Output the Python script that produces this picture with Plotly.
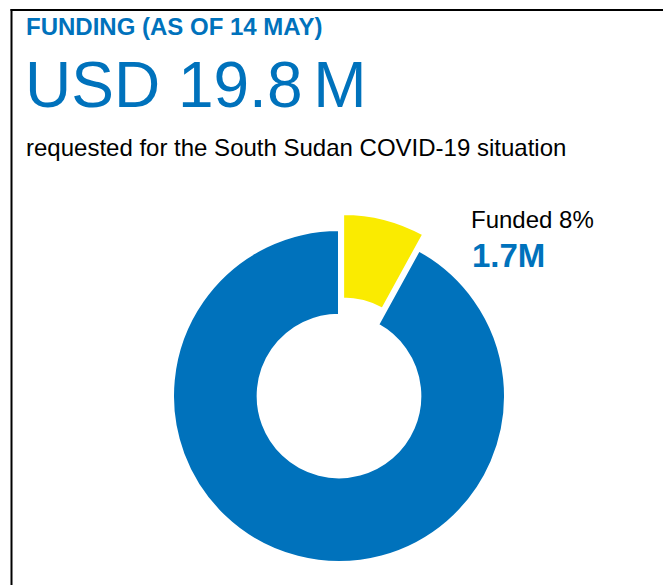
import plotly.graph_objects as go

W, H = 679, 593
OX, OY = 8, 8  # page body margin offset

labels = ["Funded", "Unfunded"]
pct_values = [8, 92]
colors = ["#FAEB00", "#0072BC"]
pulls = [0.1, 0]

title_text = "FUNDING (AS OF 14 MAY)"
amount_text = "USD 19.8\u2006M"
subtitle_text = "requested for the South Sudan COVID-19 situation"
funded_label = "Funded 8%"
funded_amount = "1.7M"

BLUE = "#0072BC"
FONT = "Liberation Sans, Arial, sans-serif"

def px(x):
    return (x - OX) / W

def py(y):
    return 1 - (y - OY) / H

# pie geometry (pixels on screen)
cx, cy, r = 339, 396, 166
half = r * 1.1

fig = go.Figure(go.Pie(
    labels=labels,
    values=pct_values,
    marker=dict(colors=colors, line=dict(color="white", width=2)),
    pull=pulls,
    hole=0.49,
    sort=False,
    direction="clockwise",
    rotation=0,
    textinfo="none",
    hoverinfo="label+percent",
    showlegend=False,
    domain=dict(x=[px(cx - half), px(cx + half)], y=[py(cy + half), py(cy - half)]),
))

annos = [
    dict(text="<b>" + title_text + "</b>", x=px(23.5), y=py(26.5), size=24, color=BLUE),
    dict(text=amount_text, x=px(23), y=py(85), size=64, color=BLUE),
    dict(text=subtitle_text, x=px(24), y=py(147), size=24, color="black"),
    dict(text=funded_label, x=px(469), y=py(220), size=24, color="black"),
    dict(text="<b>" + funded_amount + "</b>", x=px(470), y=py(255.5), size=33, color=BLUE),
]
fig.update_layout(
    annotations=[dict(text=a["text"], x=a["x"], y=a["y"], xref="paper", yref="paper",
                      xanchor="left", yanchor="middle", showarrow=False,
                      font=dict(family=FONT, size=a["size"], color=a["color"]))
                 for a in annos],
    shapes=[
        dict(type="line", xref="paper", yref="paper", x0=px(11.5), x1=px(11.5), y0=py(9), y1=py(H + 20),
             line=dict(color="black", width=2)),
        dict(type="line", xref="paper", yref="paper", x0=px(10.5), x1=px(670), y0=py(10), y1=py(10),
             line=dict(color="black", width=2)),
    ],
    width=W, height=H,
    margin=dict(l=0, r=0, t=0, b=0),
    paper_bgcolor="white",
    plot_bgcolor="white",
    font=dict(family=FONT),
)

fig.write_html("out.html")
